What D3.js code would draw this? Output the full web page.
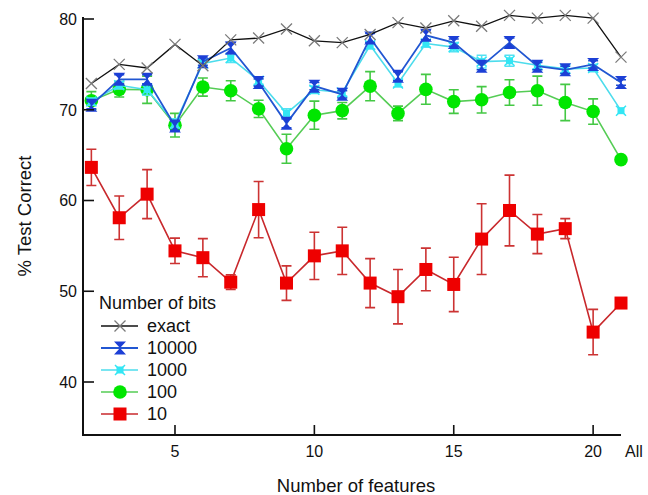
<!DOCTYPE html>
<html lang="en">
<head>
<meta charset="UTF-8">
<title>Test correct vs number of features</title>
<style>
  body { margin: 0; background: #fff; }
  svg text { font-family: Arial, "Liberation Sans", sans-serif; fill: #111; }
  .tick-label { font-size: 16px; }
  .axis-title { font-size: 18.5px; }
  .legend text { font-size: 18px; }
</style>
<script src="https://d3js.org/d3.v7.min.js"></script>
</head>
<body>
<script>
// number of features (21 = "All")
const features = [2, 3, 4, 5, 6, 7, 8, 9, 10, 11, 12, 13, 14, 15, 16, 17, 18, 19, 20, 21];
const xTicks = [5, 10, 15, 20];
const yTicks = [40, 50, 60, 70, 80];

const exact   = [72.9, 75.0, 74.6, 77.2, 74.85, 77.7, 77.9, 78.9, 77.6, 77.4, 78.3, 79.6, 79.0, 79.8, 79.2, 80.4, 80.1, 80.4, 80.1, 75.8];
const bits10000 = [70.5, 73.35, 73.35, 68.2, 75.3, 76.8, 73.0, 68.5, 72.6, 71.7, 77.9, 73.7, 78.2, 77.4, 74.8, 77.4, 74.8, 74.4, 75.0, 73.0];
const err10000  = [0.4, 0.5, 0.5, 0.5, 0.4, 0.6, 0.4, 0.5, 0.4, 0.4, 0.5, 0.5, 0.5, 0.4, 0.4, 0.5, 0.4, 0.4, 0.4, 0.3];
const bits1000  = [70.9, 72.7, 72.2, 68.5, 75.1, 75.7, 73.2, 69.6, 72.2, 71.9, 77.1, 72.9, 77.3, 76.9, 75.3, 75.4, 74.9, 74.5, 74.6, 69.9];
const err1000   = [0.4, 0.4, 0.6, 0.5, 0.4, 0.5, 0.4, 0.5, 0.4, 0.4, 0.4, 0.4, 0.4, 0.5, 0.7, 0.6, 0.4, 0.4, 0.4, 0];
const bits100   = [71.0, 72.25, 72.2, 68.3, 72.5, 72.1, 70.1, 65.7, 69.4, 69.9, 72.6, 69.6, 72.25, 70.9, 71.1, 71.9, 72.1, 70.8, 69.8, 64.5];
const err100    = [1.0, 0.85, 1.5, 1.3, 1.0, 1.1, 0.95, 1.6, 1.55, 0.9, 1.6, 0.8, 1.65, 1.3, 1.45, 1.4, 1.6, 2.0, 1.4, 0];
const bits10    = [63.65, 58.1, 60.7, 54.45, 53.7, 51.0, 59.0, 50.9, 53.9, 54.45, 50.9, 49.4, 52.4, 50.75, 55.75, 58.9, 56.3, 56.9, 45.5, 48.7];
const err10     = [2.0, 2.4, 2.7, 1.4, 2.1, 0.8, 3.1, 1.9, 2.6, 2.6, 2.7, 3.0, 2.35, 3.0, 3.9, 3.9, 2.15, 1.1, 2.5, 0];

const w = 648, h = 495;

const svg = d3.select("body").append("svg")
  .attr("width", w)
  .attr("height", h);

const x = d3.scaleLinear().domain([1.7, 21]).range([83, 621]);
const y = d3.scaleLinear().domain([34.16, 80]).range([435, 19]);

// marker shapes
const markers = {
  cross: g => g.append("path").attr("d", "M-5.5,-5.5L5.5,5.5M-5.5,5.5L5.5,-5.5")
    .attr("stroke", "#7a7a7a").attr("stroke-width", 1.3).attr("fill", "none"),
  bowtie: g => g.append("path").attr("d", "M-6,-6.5L6,-6.5L0,0L6,6.5L-6,6.5L0,0Z")
    .attr("fill", "#1c3fd6"),
  star: g => {
    g.append("rect").attr("x", -3.5).attr("y", -3.5).attr("width", 7).attr("height", 7).attr("fill", "#33e6f4");
    g.append("path").attr("d", "M-5,-5L5,5M-5,5L5,-5").attr("stroke", "#33e6f4").attr("stroke-width", 1.5);
  },
  circle: g => g.append("circle").attr("r", 6.8).attr("fill", "#00e600"),
  square: g => g.append("rect").attr("x", -6.5).attr("y", -6.5).attr("width", 13).attr("height", 13).attr("fill", "#ee0000")
};

const series = [
  { name: "10",    values: bits10,    err: err10,    line: "#c8282c", bar: "#cc3333", marker: "square", lw: 1.6 },
  { name: "100",   values: bits100,   err: err100,   line: "#55cc55", bar: "#44c844", marker: "circle", lw: 1.6 },
  { name: "1000",  values: bits1000,  err: err1000,  line: "#4cdcec", bar: "#55e2f2", marker: "star",   lw: 1.6 },
  { name: "10000", values: bits10000, err: err10000, line: "#2156d2", bar: "#1e4fd0", marker: "bowtie", lw: 1.8 },
  { name: "exact", values: exact,     err: null,     line: "#111111", bar: null,      marker: "cross",  lw: 1.3 }
];

const line = d3.line().x(d => x(d[0])).y(d => y(d[1]));

series.forEach(s => {
  const pts = features.map((f, i) => [f, s.values[i], s.err ? s.err[i] : 0]);
  const g = svg.append("g");

  g.append("path")
    .datum(pts)
    .attr("d", line)
    .attr("fill", "none")
    .attr("stroke", s.line)
    .attr("stroke-width", s.lw);

  if (s.err) {
    const eb = g.selectAll(".eb").data(pts.filter(d => d[2] > 0)).enter().append("g");
    eb.append("path")
      .attr("d", d => {
        const cx = x(d[0]), y1 = y(d[1] + d[2]), y2 = y(d[1] - d[2]);
        return `M${cx},${y1}L${cx},${y2}M${cx - 5},${y1}L${cx + 5},${y1}M${cx - 5},${y2}L${cx + 5},${y2}`;
      })
      .attr("stroke", s.bar)
      .attr("stroke-width", 1.6)
      .attr("fill", "none");
  }

  g.selectAll(".mk").data(pts).enter().append("g")
    .attr("transform", d => `translate(${x(d[0])},${y(d[1])})`)
    .each(function() { markers[s.marker](d3.select(this)); });
});

// axes (inward ticks)
const xAxis = svg.append("g").attr("transform", "translate(0,435)");
xAxis.append("line").attr("x1", 83).attr("x2", 621).attr("y1", 0).attr("y2", 0)
  .attr("stroke", "#111").attr("stroke-width", 2);
xAxis.selectAll(".t").data(xTicks).enter().append("line")
  .attr("x1", d => x(d)).attr("x2", d => x(d)).attr("y1", 0).attr("y2", -10)
  .attr("stroke", "#111").attr("stroke-width", 1.6);
xAxis.selectAll(".l").data(xTicks).enter().append("text")
  .attr("class", "tick-label")
  .attr("x", d => x(d)).attr("y", 22)
  .attr("text-anchor", "middle")
  .text(d => d);
xAxis.append("text")
  .attr("class", "tick-label")
  .attr("x", x(21) + 4).attr("y", 22)
  .text("All");

const yAxis = svg.append("g").attr("transform", "translate(83,0)");
yAxis.append("line").attr("x1", 0).attr("x2", 0).attr("y1", 17).attr("y2", 436)
  .attr("stroke", "#111").attr("stroke-width", 2);
yAxis.selectAll(".t").data(yTicks).enter().append("line")
  .attr("x1", 0).attr("x2", 11).attr("y1", d => y(d)).attr("y2", d => y(d))
  .attr("stroke", "#111").attr("stroke-width", 1.6);
yAxis.selectAll(".l").data(yTicks).enter().append("text")
  .attr("class", "tick-label")
  .attr("x", -6).attr("y", d => y(d))
  .attr("dy", "0.36em")
  .attr("text-anchor", "end")
  .text(d => d);

svg.append("text")
  .attr("class", "axis-title")
  .attr("x", 356).attr("y", 492)
  .attr("text-anchor", "middle")
  .text("Number of features");

svg.append("text")
  .attr("class", "axis-title")
  .attr("transform", "translate(31,216) rotate(-90)")
  .attr("text-anchor", "middle")
  .text("% Test Correct");

// legend
const legend = svg.append("g").attr("class", "legend");
legend.append("text").attr("x", 99).attr("y", 309).text("Number of bits");

const legendOrder = ["exact", "10000", "1000", "100", "10"];
legendOrder.forEach((name, i) => {
  const s = series.find(d => d.name === name);
  const cy = 326 + i * 22;
  legend.append("line")
    .attr("x1", 101).attr("x2", 138).attr("y1", cy).attr("y2", cy)
    .attr("stroke", s.line).attr("stroke-width", s.lw);
  markers[s.marker](legend.append("g").attr("transform", `translate(120,${cy})`));
  legend.append("text")
    .attr("x", 147).attr("y", cy).attr("dy", "0.36em")
    .text(name);
});
</script>
</body>
</html>
